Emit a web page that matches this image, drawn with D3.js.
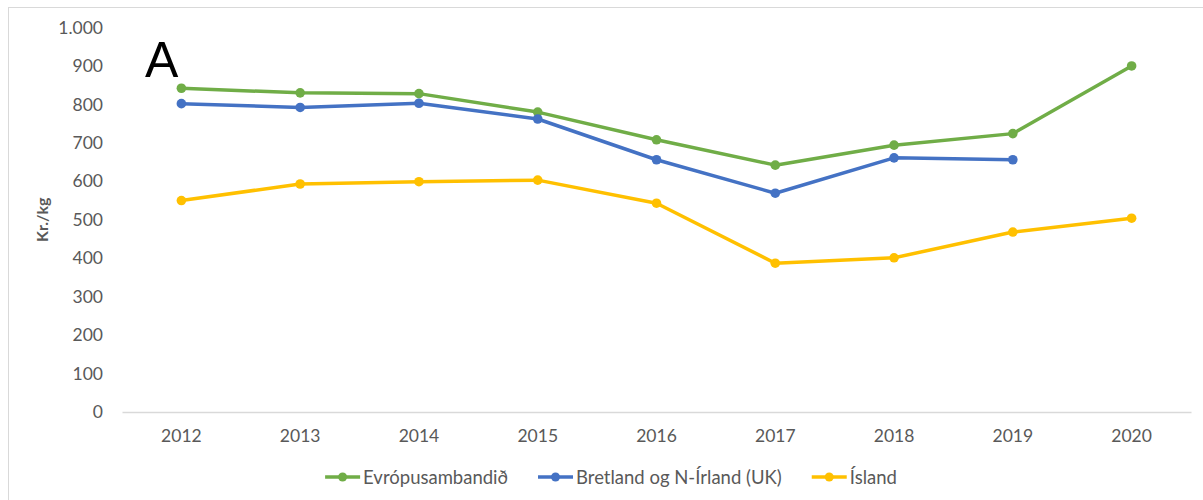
<!DOCTYPE html>
<html>
<head>
<meta charset="utf-8">
<script src="https://cdn.jsdelivr.net/npm/d3@7"></script>
<style>
  body { margin: 0; background: #fff; }
  svg { display: block; font-family: Lato, "Noto Sans", sans-serif; }
</style>
</head>
<body>
<svg id="chart"></svg>
<script>
// data
const years = ['2012', '2013', '2014', '2015', '2016', '2017', '2018', '2019', '2020'];
const evropusambandid = [842, 830, 828, 780, 708, 642, 694, 724, 900];
const bretland = [802, 792, 803, 762, 656, 569, 661, 656, null];
const island = [550, 593, 599, 603, 543, 387, 401, 468, 504];
const yTicks = [0, 100, 200, 300, 400, 500, 600, 700, 800, 900, 1000];

const series = [
  { name: 'Evrópusambandið', values: evropusambandid, color: '#70AD47' },
  { name: 'Bretland og N-Írland (UK)', values: bretland, color: '#4472C4' },
  { name: 'Ísland', values: island, color: '#FFC000' }
];

const width = 1203, height = 500;
const svg = d3.select('#chart').attr('width', width).attr('height', height);

// chart border (runs off the right/bottom of the picture)
svg.append('rect')
  .attr('x', 8.5).attr('y', 7.5)
  .attr('width', 1300).attr('height', 600)
  .attr('fill', 'none').attr('stroke', '#d9d9d9');

const plot = { left: 122, right: 1191, top: 27.5, bottom: 412 };

const x = d3.scaleBand().domain(years).range([plot.left, plot.right]);
const y = d3.scaleLinear().domain([0, 1000]).range([plot.bottom, plot.top]);

const locale = d3.formatLocale({ decimal: ',', thousands: '.', grouping: [3], currency: ['', ''] });
const fmt = locale.format(',d');

// y axis: labels only
const yAxis = svg.append('g')
  .attr('transform', `translate(${plot.left},0)`)
  .call(d3.axisLeft(y).tickValues(yTicks).tickFormat(fmt).tickSize(0).tickPadding(19));
yAxis.select('.domain').remove();
yAxis.selectAll('text')
  .attr('fill', '#595959')
  .style('font-size', '17.5px')
  .style('font-family', 'Lato, sans-serif');

// x axis
const xAxis = svg.append('g')
  .attr('transform', `translate(0,${plot.bottom})`)
  .call(d3.axisBottom(x).tickSize(0).tickPadding(18));
xAxis.select('.domain').attr('stroke', '#d9d9d9').attr('stroke-width', 1.3);
xAxis.selectAll('text')
  .attr('fill', '#595959')
  .style('font-size', '17.5px')
  .style('font-family', 'Lato, sans-serif');

// y title
svg.append('text')
  .attr('transform', `translate(48,${(plot.top + plot.bottom) / 2}) rotate(-90)`)
  .attr('text-anchor', 'middle')
  .attr('fill', '#595959')
  .style('font-size', '16px')
  .style('font-weight', 'bold')
  .text('Kr./kg');

// panel letter
svg.append('text')
  .attr('x', 145).attr('y', 77)
  .attr('fill', '#000')
  .style('font-size', '50px')
  .style('font-family', '"Liberation Sans", Arial, sans-serif')
  .text('A');

const cx = d => x(d) + x.bandwidth() / 2;

const line = d3.line()
  .defined(d => d.v != null)
  .x(d => cx(d.year))
  .y(d => y(d.v));

series.forEach(s => {
  const pts = years.map((yr, i) => ({ year: yr, v: s.values[i] }));
  svg.append('path')
    .datum(pts)
    .attr('d', line)
    .attr('fill', 'none')
    .attr('stroke', s.color)
    .attr('stroke-width', 3.5)
    .attr('stroke-linejoin', 'round');
  svg.selectAll(null)
    .data(pts.filter(d => d.v != null))
    .enter().append('circle')
    .attr('cx', d => cx(d.year))
    .attr('cy', d => y(d.v))
    .attr('r', 4.8)
    .attr('fill', s.color);
});

// legend
const legend = svg.append('g');
const ly = 477;
let lx = 0;
series.forEach(s => {
  const g = legend.append('g').attr('transform', `translate(${lx},0)`);
  g.append('line')
    .attr('x1', 0).attr('x2', 35).attr('y1', ly).attr('y2', ly)
    .attr('stroke', s.color).attr('stroke-width', 3.5);
  g.append('circle').attr('cx', 17.5).attr('cy', ly).attr('r', 4.5).attr('fill', s.color);
  const t = g.append('text')
    .attr('x', 38).attr('y', ly + 6.5)
    .attr('fill', '#595959')
    .style('font-size', '18.5px')
    .text(s.name);
  lx += 38 + t.node().getComputedTextLength() + 30;
});
const legendW = lx - 30;
legend.attr('transform', `translate(${611 - legendW / 2},0)`);
</script>
</body>
</html>
